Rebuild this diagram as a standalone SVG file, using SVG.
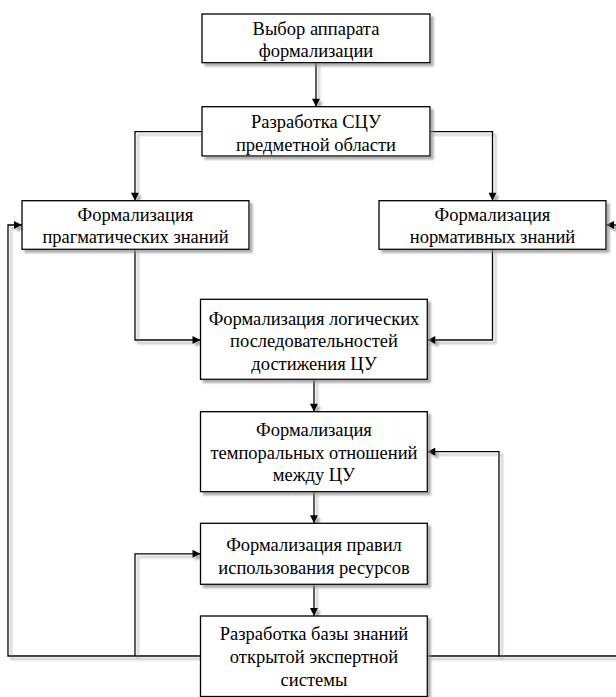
<svg xmlns="http://www.w3.org/2000/svg" width="616" height="697" viewBox="0 0 616 697">
<style>
  .box { fill: #ffffff; stroke: #000000; stroke-width: 1.3; }
  .lbl { font-family: 'Liberation Serif', serif; font-size: 18.5px; font-weight: 400; fill: #000000; text-anchor: middle; }
  .conn { fill: none; stroke: #000000; stroke-width: 1.3; }
</style>
<defs>
  <filter id="sh" x="-10%" y="-10%" width="130%" height="140%">
    <feDropShadow dx="3" dy="3" stdDeviation="1.2" flood-color="#8a8a8a" flood-opacity="0.7"/>
  </filter>
  <marker id="ah" viewBox="0 0 10 10" refX="10" refY="5" markerWidth="9" markerHeight="8" markerUnits="userSpaceOnUse" orient="auto">
    <path d="M0,0 L10,5 L0,10 z" fill="#000000"/>
  </marker>
</defs>
<rect width="616" height="697" fill="#ffffff"/>
<g id="connectors" filter="url(#sh)">
  <path class="conn" d="M316,62.7 V106.7" marker-end="url(#ah)"/>
  <path class="conn" d="M202,131.7 H135 V200.7" marker-end="url(#ah)"/>
  <path class="conn" d="M430,131.7 H492.5 V200.7" marker-end="url(#ah)"/>
  <path class="conn" d="M135,249.3 V340 H200.5" marker-end="url(#ah)"/>
  <path class="conn" d="M492.5,249.3 V340 H427.3" marker-end="url(#ah)"/>
  <path class="conn" d="M314,379.3 V411.7" marker-end="url(#ah)"/>
  <path class="conn" d="M314,491.7 V523.3" marker-end="url(#ah)"/>
  <path class="conn" d="M314,584.3 V616" marker-end="url(#ah)"/>
  <path class="conn" d="M200.5,656 H8 V225 H22" marker-end="url(#ah)"/>
  <path class="conn" d="M135,656 V553.8 H200.5" marker-end="url(#ah)"/>
  <path class="conn" d="M427.3,656 H499 V451.7 H427.3" marker-end="url(#ah)"/>
  <path class="conn" d="M499,656 H630 V225 H606" marker-end="url(#ah)"/>
</g>
<g id="nodes" font-family="Liberation Serif, serif">
<g id="n1">
  <rect class="box" x="202" y="14" width="228" height="48.7" filter="url(#sh)"/>
  <text class="lbl" x="316" y="34.5">Выбор аппарата</text>
  <text class="lbl" x="316" y="57">формализации</text>
</g>
<g id="n2">
  <rect class="box" x="202" y="106.7" width="228" height="49.3" filter="url(#sh)"/>
  <text class="lbl" x="316" y="128">Разработка СЦУ</text>
  <text class="lbl" x="316" y="150.5">предметной области</text>
</g>
<g id="n3">
  <rect class="box" x="22" y="200.7" width="227" height="48.6" filter="url(#sh)"/>
  <text class="lbl" x="135.5" y="220.5">Формализация</text>
  <text class="lbl" x="135.5" y="243">прагматических знаний</text>
</g>
<g id="n4">
  <rect class="box" x="379" y="200.7" width="227" height="48.6" filter="url(#sh)"/>
  <text class="lbl" x="492.5" y="220.5">Формализация</text>
  <text class="lbl" x="492.5" y="243">нормативных знаний</text>
</g>
<g id="n5">
  <rect class="box" x="200.5" y="299.3" width="226.8" height="80" filter="url(#sh)"/>
  <text class="lbl" x="314" y="324.5">Формализация логических</text>
  <text class="lbl" x="314" y="347">последовательностей</text>
  <text class="lbl" x="314" y="369.5">достижения ЦУ</text>
</g>
<g id="n6">
  <rect class="box" x="200.5" y="411.7" width="226.8" height="80" filter="url(#sh)"/>
  <text class="lbl" x="314" y="436">Формализация</text>
  <text class="lbl" x="314" y="458.5">темпоральных отношений</text>
  <text class="lbl" x="314" y="481">между ЦУ</text>
</g>
<g id="n7">
  <rect class="box" x="200.5" y="523.3" width="226.8" height="61" filter="url(#sh)"/>
  <text class="lbl" x="314" y="550.5">Формализация правил</text>
  <text class="lbl" x="314" y="573.5">использования ресурсов</text>
</g>
<g id="n8">
  <rect class="box" x="200.5" y="616" width="226.8" height="80.5" filter="url(#sh)"/>
  <text class="lbl" x="314" y="640">Разработка базы знаний</text>
  <text class="lbl" x="314" y="663">открытой экспертной</text>
  <text class="lbl" x="314" y="686">системы</text>
</g>
</g>
</svg>
